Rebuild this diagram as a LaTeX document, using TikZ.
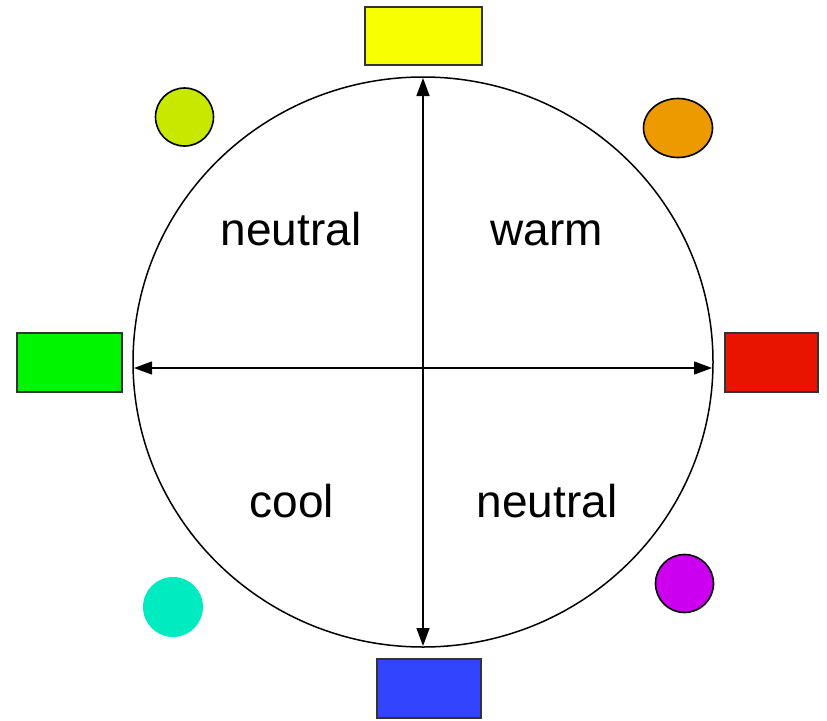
\documentclass[tikz,border=0pt]{standalone}
\usepackage{fontspec}
\setmainfont{Liberation Sans}
\usetikzlibrary{arrows.meta,shapes.geometric}
\definecolor{cyel}{HTML}{F7FF00}
\definecolor{cyg}{HTML}{C8E800}
\definecolor{corg}{HTML}{EC9A00}
\definecolor{cgrn}{HTML}{00F500}
\definecolor{cred}{HTML}{E81400}
\definecolor{ccyan}{HTML}{00EBC0}
\definecolor{cmag}{HTML}{CC00EE}
\definecolor{cblue}{HTML}{3344FF}
\tikzset{
  swatch/.style={draw=black!80, line width=1.5pt, inner sep=0pt, minimum width=#1},
  dot/.style={circle, draw=black, line width=1.6pt, inner sep=0pt, minimum size=58pt},
  lbl/.style={font=\fontsize{46}{50}\selectfont, anchor=base, inner sep=0pt},
  axis/.style={line width=1.5pt, {Triangle[length=18pt,width=13pt]}-{Triangle[length=18pt,width=13pt]}}
}
\begin{document}
\begin{tikzpicture}[x=1pt,y=-1pt]
\useasboundingbox (0,0) rectangle (827,720);
% wheel
\node[ellipse, draw=black, line width=1.5pt, minimum width=580pt, minimum height=570pt, inner sep=0pt] (wheel) at (423,362) {};
% swatches
\node[swatch=117pt, minimum height=58pt, fill=cyel] (ytop) at (423.5,36) {};
\node[swatch=105pt, minimum height=59pt, fill=cgrn] (gleft) at (69.5,362.5) {};
\node[swatch=93pt, minimum height=59pt, fill=cred] (rright) at (771.5,362.5) {};
\node[swatch=104pt, minimum height=59pt, fill=cblue] (bbot) at (429,688.5) {};
% dots
\node[dot, fill=cyg] (yg) at (184.5,117) {};
\node[ellipse, draw=black, line width=1.6pt, fill=corg, inner sep=0pt, minimum width=69pt, minimum height=59pt] (org) at (678,128) {};
\node[circle, fill=ccyan, inner sep=0pt, minimum size=60pt] (cy) at (173,607) {};
\node[dot, fill=cmag] (mg) at (684.5,583.5) {};
% axes
\coordinate (vt) at (423,78);
\coordinate (vb) at (423,646);
\coordinate (hl) at (134,368);
\coordinate (hr) at (712,368);
\draw[axis] (vt) -- (vb);
\draw[axis] (hl) -- (hr);
% labels
\node[lbl] (n1) at (291,245) {neutral};
\node[lbl] (w) at (547,245) {warm};
\node[lbl] (c) at (292,517) {cool};
\node[lbl] (n2) at (547,517) {neutral};
\end{tikzpicture}
\end{document}
